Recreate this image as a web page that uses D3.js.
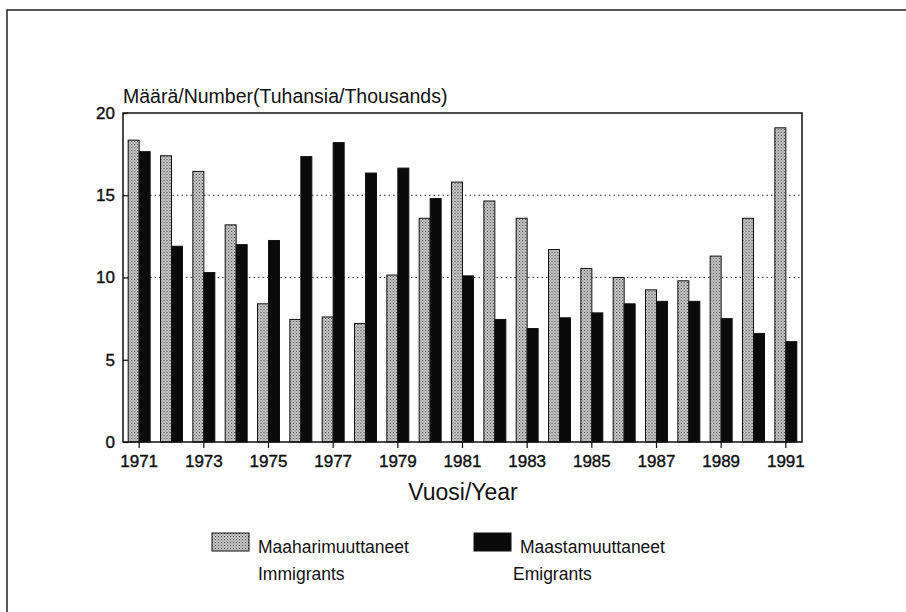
<!DOCTYPE html>
<html>
<head>
<meta charset="utf-8">
<script src="https://cdn.jsdelivr.net/npm/d3@7"></script>
<style>
    html, body { margin: 0; padding: 0; background: #fff; }
    svg { display: block; font-family: "Liberation Sans", Arial, Helvetica, sans-serif; }
</style>
</head>
<body>
<svg id="chart" width="906" height="612"></svg>
<script>
// Data (thousands of persons)
const years = d3.range(1971, 1992);
const immigrants = [18.35, 17.4, 16.45, 13.2, 8.4, 7.45, 7.6, 7.2, 10.15, 13.6, 15.8,
                    14.65, 13.6, 11.7, 10.55, 10.0, 9.25, 9.8, 11.3, 13.6, 19.1];
const emigrants = [17.65, 11.9, 10.3, 12.0, 12.25, 17.35, 18.2, 16.35, 16.65, 14.8, 10.1,
                   7.45, 6.9, 7.55, 7.85, 8.4, 8.55, 8.55, 7.5, 6.6, 6.1];
const seriesKeys = ['imm', 'emi'];
const yTicks = [0, 5, 10, 15, 20];
const gridValues = [10, 15];
const xTickYears = d3.range(1971, 1992, 2);
const legendItems = [
    { key: 'imm', fi: 'Maaharimuuttaneet', en: 'Immigrants' },
    { key: 'emi', fi: 'Maastamuuttaneet', en: 'Emigrants' }
];

const svg = d3.select('#chart');
const plot = { left: 123, right: 802, top: 113, bottom: 442 };

// stipple pattern for the grey bars
const defs = svg.append('defs');
const pat = defs.append('pattern')
    .attr('id', 'stipple')
    .attr('width', 3).attr('height', 3)
    .attr('patternUnits', 'userSpaceOnUse');
pat.append('rect').attr('width', 3).attr('height', 3).attr('fill', '#c8c8c8');
pat.append('rect').attr('x', 0).attr('y', 0).attr('width', 1).attr('height', 1).attr('fill', '#444');
pat.append('rect').attr('x', 1.5).attr('y', 1.5).attr('width', 1).attr('height', 1).attr('fill', '#666');

const fills = { imm: 'url(#stipple)', emi: '#0a0a0a' };

// outer border of the scanned page
svg.append('path')
    .attr('d', `M7,612 L7,10 L906,10`)
    .attr('fill', 'none')
    .attr('stroke', '#222')
    .attr('stroke-width', 1.5);

// scales
const x0 = d3.scaleBand()
    .domain(years)
    .range([plot.left, plot.right])
    .paddingInner(0.32)
    .paddingOuter(0.16);

const x1 = d3.scaleBand()
    .domain(seriesKeys)
    .range([0, x0.bandwidth()]);

const y = d3.scaleLinear()
    .domain([0, 20])
    .range([plot.bottom, plot.top]);

// dotted gridlines
svg.append('g')
    .selectAll('line')
    .data(gridValues)
    .join('line')
    .attr('x1', plot.left)
    .attr('x2', plot.right)
    .attr('y1', d => y(d))
    .attr('y2', d => y(d))
    .attr('stroke', '#333')
    .attr('stroke-width', 1)
    .attr('stroke-dasharray', '1.5,3');

// bars
const rows = years.map((yr, i) => ({ year: yr, imm: immigrants[i], emi: emigrants[i] }));

const groups = svg.append('g')
    .selectAll('g')
    .data(rows)
    .join('g')
    .attr('transform', d => `translate(${x0(d.year)},0)`);

groups.selectAll('rect')
    .data(d => seriesKeys.map(k => ({ key: k, value: d[k] })))
    .join('rect')
    .attr('x', d => x1(d.key))
    .attr('y', d => y(d.value))
    .attr('width', x1.bandwidth())
    .attr('height', d => y(0) - y(d.value))
    .attr('fill', d => fills[d.key])
    .attr('stroke', '#111')
    .attr('stroke-width', 1);

// plot frame
svg.append('rect')
    .attr('x', plot.left)
    .attr('y', plot.top)
    .attr('width', plot.right - plot.left)
    .attr('height', plot.bottom - plot.top)
    .attr('fill', 'none')
    .attr('stroke', '#111')
    .attr('stroke-width', 1.5);

// y axis, ticks pointing inward
const yAxis = svg.append('g')
    .attr('transform', `translate(${plot.left},0)`)
    .call(d3.axisLeft(y).tickValues(yTicks).tickSizeInner(-5).tickSizeOuter(0).tickPadding(8));
yAxis.select('.domain').remove();
yAxis.selectAll('line').attr('stroke', '#111').attr('stroke-width', 1.2);
yAxis.selectAll('text')
    .attr('fill', '#111')
    .attr('stroke', '#111')
    .attr('stroke-width', 0.4)
    .style('font-size', '17px')
    .attr('x', -8);

// x axis, ticks below
const xAxis = svg.append('g')
    .attr('transform', `translate(0,${plot.bottom})`)
    .call(d3.axisBottom(x0).tickValues(xTickYears).tickSizeInner(6).tickSizeOuter(0).tickPadding(7));
xAxis.select('.domain').remove();
xAxis.selectAll('line').attr('stroke', '#111').attr('stroke-width', 1.2);
xAxis.selectAll('text')
    .attr('fill', '#111')
    .attr('stroke', '#111')
    .attr('stroke-width', 0.4)
    .style('font-size', '17px');

// titles
svg.append('text')
    .attr('x', plot.left)
    .attr('y', 103)
    .style('font-size', '19.5px')
    .attr('fill', '#111')
    .text('Määrä/Number(Tuhansia/Thousands)');

svg.append('text')
    .attr('x', 463)
    .attr('y', 500)
    .attr('text-anchor', 'middle')
    .style('font-size', '23px')
    .attr('fill', '#111')
    .text('Vuosi/Year');

// legend
const legendX = [212, 474];
const legend = svg.append('g')
    .selectAll('g')
    .data(legendItems)
    .join('g')
    .attr('transform', (d, i) => `translate(${legendX[i]},533)`);

legend.append('rect')
    .attr('width', 37)
    .attr('height', 18)
    .attr('fill', d => fills[d.key])
    .attr('stroke', '#111')
    .attr('stroke-width', 1);

legend.append('text')
    .attr('x', 46)
    .attr('y', 20)
    .style('font-size', '17.5px')
    .attr('fill', '#111')
    .text(d => d.fi);

legend.append('text')
    .attr('x', (d, i) => i === 0 ? 46 : 39)
    .attr('y', 47)
    .style('font-size', '17.5px')
    .attr('fill', '#111')
    .text(d => d.en);
</script>
</body>
</html>
